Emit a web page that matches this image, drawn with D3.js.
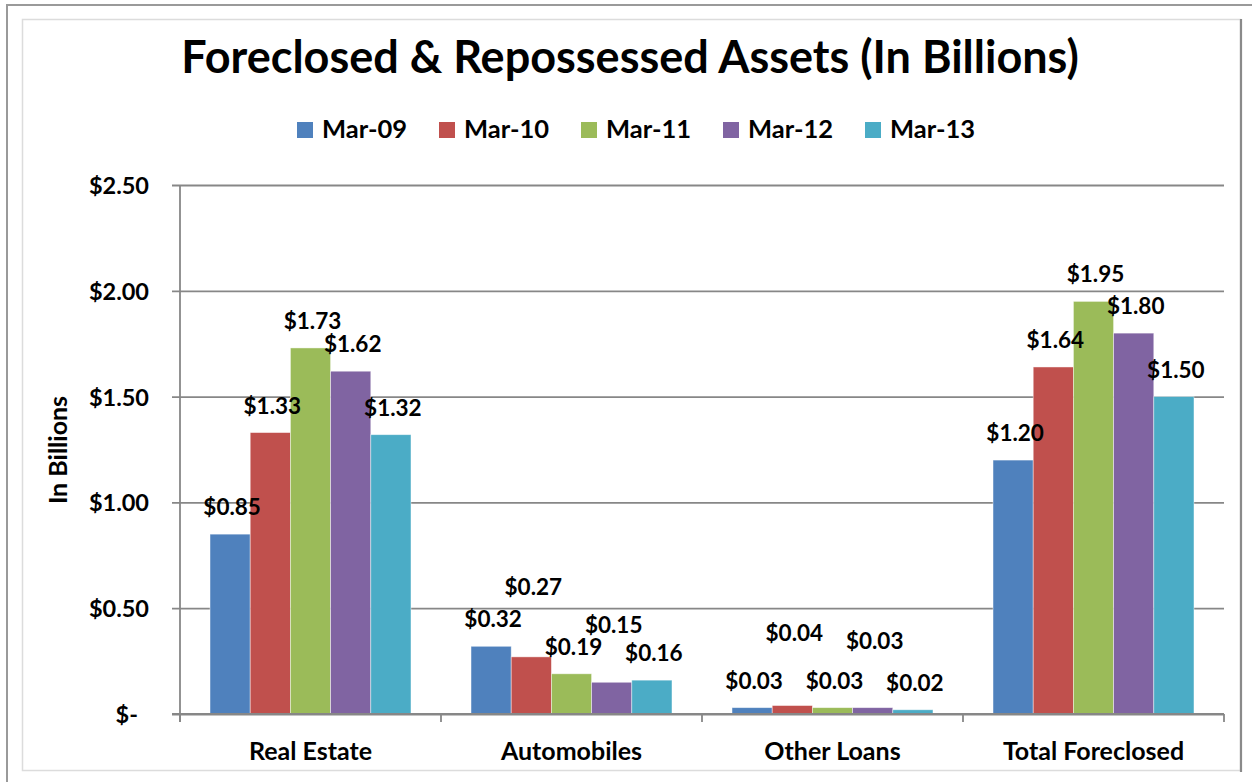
<!DOCTYPE html>
<html><head><meta charset="utf-8">
<script src="https://cdn.jsdelivr.net/npm/d3@7"></script>
<style>
body{margin:0;background:#fff}
svg{display:block}
text{font-family:Lato,"Open Sans",sans-serif;font-weight:700;fill:#000}
</style>
</head><body>
<svg id="chart" width="1252" height="782"></svg>
<script>
// ---- data ----
const categories = ["Real Estate", "Automobiles", "Other Loans", "Total Foreclosed"];
const seriesNames = ["Mar-09", "Mar-10", "Mar-11", "Mar-12", "Mar-13"];
const realEstate = [0.85, 1.33, 1.73, 1.62, 1.32];
const automobiles = [0.32, 0.27, 0.19, 0.15, 0.16];
const otherLoans = [0.03, 0.04, 0.03, 0.03, 0.02];
const totalForeclosed = [1.20, 1.64, 1.95, 1.80, 1.50];
const yTicks = [0, 0.5, 1.0, 1.5, 2.0, 2.5];
const titleText = "Foreclosed & Repossessed Assets (In Billions)";
const yAxisTitle = "In Billions";

// ---- styles / layout ----
const colors = ["#4F81BD", "#C0504D", "#9BBB59", "#8064A2", "#4BACC6"];
const valuesByCategory = [realEstate, automobiles, otherLoans, totalForeclosed];
// manual label lifts (px) where labels were moved to avoid overlap
const labelLift = {"Automobiles|Mar-10": 43, "Automobiles|Mar-12": 30, "Other Loans|Mar-10": 46, "Other Loans|Mar-12": 40};

const W = 1252, H = 782;
const plot = {left: 180, right: 1224, top: 185, bottom: 714};
const gap = 0.23;

const svg = d3.select("#chart");

// frame
svg.append("path").attr("d", `M7,${H} V5 H${W}`).attr("fill", "none").attr("stroke", "#9a9a9a").attr("stroke-width", 2);
svg.append("rect").attr("x", 22.5).attr("y", 19.5).attr("width", 1218).attr("height", 751)
  .attr("fill", "#fff").attr("stroke", "#dcdcdc").attr("stroke-width", 1.5);
svg.append("line").attr("x1", 1241).attr("x2", 1241).attr("y1", 19).attr("y2", 772)
  .attr("stroke", "#8a8a8a").attr("stroke-width", 2.2);

// scales
const x0 = d3.scaleBand().domain(categories).range([plot.left, plot.right])
  .paddingInner(gap).paddingOuter(gap / 2);
const x1 = d3.scaleBand().domain(seriesNames).range([0, x0.bandwidth()]);
const y = d3.scaleLinear().domain([0, 2.5]).range([plot.bottom, plot.top]);
const color = d3.scaleOrdinal().domain(seriesNames).range(colors);

// gridlines + y axis
const fmt = v => v === 0 ? "$-" : "$" + d3.format(".2f")(v);
const yAxis = d3.axisLeft(y).tickValues(yTicks).tickFormat(fmt)
  .tickSizeInner(-(plot.right - plot.left)).tickSizeOuter(0).tickPadding(0);
const gy = svg.append("g").attr("transform", `translate(${plot.left},0)`).call(yAxis);
gy.select(".domain").remove();
gy.selectAll(".tick line").attr("x1", -8).attr("stroke", "#878787").attr("stroke-width", 1.8);
gy.selectAll(".tick text").attr("x", -31).attr("dy", "0.36em")
  .style("font-size", "23.5px").attr("font-family", null)
  .attr("dx", d => d === 0 ? -11 : 0);

// bars
const groups = svg.append("g").selectAll("g").data(categories).join("g")
  .attr("transform", c => `translate(${x0(c)},0)`);
groups.selectAll("rect").data((c, i) => seriesNames.map((s, j) => ({c, s, v: valuesByCategory[i][j]})))
  .join("rect")
  .attr("x", d => x1(d.s)).attr("width", x1.bandwidth())
  .attr("y", d => y(d.v)).attr("height", d => y(0) - y(d.v))
  .attr("fill", d => color(d.s))
  .attr("stroke", "#ffffff").attr("stroke-opacity", 0.55).attr("stroke-width", 0.8);

// axis lines on top
svg.append("line").attr("x1", plot.left).attr("x2", plot.left).attr("y1", plot.top).attr("y2", plot.bottom + 8)
  .attr("stroke", "#878787").attr("stroke-width", 1.8);
svg.append("line").attr("x1", plot.left - 8).attr("x2", plot.right).attr("y1", y(0)).attr("y2", y(0))
  .attr("stroke", "#878787").attr("stroke-width", 1.8);
// x ticks at category boundaries
const step = x0.step();
const boundaries = categories.map(c => x0(c) - step * gap / 2).concat([plot.right]);
svg.append("g").selectAll("line").data(boundaries).join("line")
  .attr("x1", d => d).attr("x2", d => d).attr("y1", y(0)).attr("y2", y(0) + 8)
  .attr("stroke", "#878787").attr("stroke-width", 1.8);

// category labels
svg.append("g").selectAll("text").data(categories).join("text")
  .attr("x", c => x0(c) + x0.bandwidth() / 2).attr("y", 760)
  .attr("text-anchor", "middle").style("font-size", "25px").text(c => c);

// data labels
groups.selectAll("text.lbl").data((c, i) => seriesNames.map((s, j) => ({c, s, v: valuesByCategory[i][j]})))
  .join("text").attr("class", "lbl")
  .attr("x", d => x1(d.s) + x1.bandwidth() / 2 + 2)
  .attr("y", d => y(d.v) - 19 - (labelLift[d.c + "|" + d.s] || 0))
  .attr("text-anchor", "middle").style("font-size", "22.5px")
  .text(d => "$" + d3.format(".2f")(d.v));

// y axis title
svg.append("text").attr("transform", "translate(67,450) rotate(-90)")
  .attr("text-anchor", "middle").style("font-size", "25px").text(yAxisTitle);

// title
svg.append("text").attr("x", 630).attr("y", 73).attr("text-anchor", "middle")
  .style("font-size", "45px").text(titleText);

// legend
const legendStep = 142;
const legendStart = 297;
const lg = svg.append("g").selectAll("g").data(seriesNames).join("g")
  .attr("transform", (s, i) => `translate(${legendStart + i * legendStep},122)`);
lg.append("rect").attr("width", 16).attr("height", 16).attr("fill", s => color(s));
lg.append("text").attr("x", 25).attr("y", 16).style("font-size", "25.5px").text(s => s);
</script>
</body></html>
